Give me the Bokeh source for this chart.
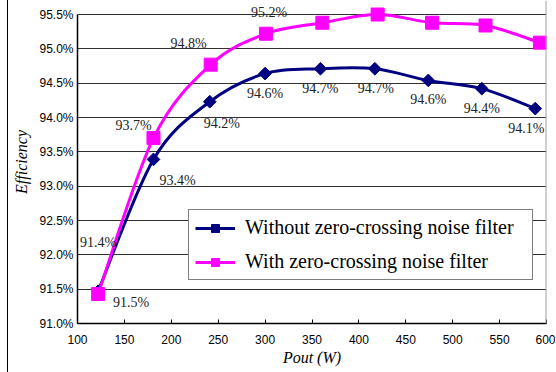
import numpy as np
from bokeh.plotting import figure
from bokeh.models import (Legend, LegendItem, Span, FixedTicker, PrintfTickFormatter,
                          ColumnDataSource)
from bokeh.core.properties import value
from bokeh.embed import file_html
from bokeh.resources import INLINE

# ---- data ----
pout_without = [122, 181, 241, 300, 359, 417, 474, 531, 588]
eff_without = [91.47, 93.39, 94.23, 94.64, 94.71, 94.71, 94.54, 94.42, 94.13]
labels_without = ["91.5%", "93.4%", "94.2%", "94.6%", "94.7%", "94.7%", "94.6%", "94.4%", "94.1%"]

pout_with = [122, 181, 242, 301, 361, 420, 478, 535, 593]
eff_with = [91.43, 93.70, 94.77, 95.22, 95.38, 95.50, 95.38, 95.34, 95.09]
labels_with = ["91.4%", "93.7%", "94.8%", "95.2%"]  # only the first four points are labelled

series_names = ["Without zero-crossing noise filter", "With zero-crossing noise filter"]
x_ticks = [100, 150, 200, 250, 300, 350, 400, 450, 500, 550, 600]
y_ticks = [91.0, 91.5, 92.0, 92.5, 93.0, 93.5, 94.0, 94.5, 95.0, 95.5]

# label placement offsets in screen pixels (style, not data)
without_dx = [33, 24, 12, 0, 0, 1, 0, 0, -9]
without_dy = [11, 21, 22, 20, 20, 20, 19, 20, 20]
with_dx = [0, -20, -22, 3]
with_dy = [-51, -13, -21, -21]

NAVY = "#000080"
MAGENTA = "#FF00FF"


def smooth_segments(xs, ys):
    """Bezier control points through the data points (Excel-style smoothed line)."""
    xs = np.asarray(xs, float)
    ys = np.asarray(ys, float)
    n = len(xs)
    d = dict(x0=[], y0=[], x1=[], y1=[], cx0=[], cy0=[], cx1=[], cy1=[])
    for i in range(n - 1):
        im1 = max(i - 1, 0)
        ip2 = min(i + 2, n - 1)
        d["x0"].append(xs[i]); d["y0"].append(ys[i])
        d["x1"].append(xs[i + 1]); d["y1"].append(ys[i + 1])
        d["cx0"].append(xs[i] + (xs[i + 1] - xs[im1]) / 6.0)
        d["cy0"].append(ys[i] + (ys[i + 1] - ys[im1]) / 6.0)
        d["cx1"].append(xs[i + 1] - (xs[ip2] - xs[i]) / 6.0)
        d["cy1"].append(ys[i + 1] - (ys[ip2] - ys[i]) / 6.0)
    return ColumnDataSource(d)


p = figure(width=548, height=372, x_range=(100, 600), y_range=(91.0, 95.704),
           output_backend="svg", toolbar_location=None,
           min_border_left=69, min_border_right=10, min_border_top=0, min_border_bottom=49)
p.styles = {"margin-left": "7px", "border-left": "1px solid black"}

p.background_fill_color = "white"
p.border_fill_color = "white"
p.outline_line_color = None

# grid
p.xgrid.visible = False
p.ygrid.ticker = FixedTicker(ticks=y_ticks)
p.ygrid.grid_line_color = "#303030"
p.ygrid.grid_line_width = 1

# right border of plot area
p.add_layout(Span(location=600, dimension="height", line_color="#a0a0a0", line_width=2))

# axes
p.xaxis.ticker = FixedTicker(ticks=x_ticks)
p.yaxis.ticker = FixedTicker(ticks=y_ticks)
p.yaxis.formatter = PrintfTickFormatter(format="%.1f%%")
p.yaxis.bounds = (91.0, 95.5)
for ax in (p.xaxis[0], p.yaxis[0]):
    ax.axis_line_color = "black"
    ax.axis_line_width = 1.5
    ax.minor_tick_line_color = None
    ax.major_label_text_font = "Liberation Sans"
    ax.major_label_text_font_size = "12px"
    ax.major_label_text_color = "black"
    ax.axis_label_text_font = "Liberation Serif"
    ax.axis_label_text_font_style = "italic"
    ax.axis_label_text_font_size = "16px"
    ax.axis_label_text_color = "black"
p.xaxis.major_tick_in = 4
p.xaxis.major_tick_out = 0
p.xaxis.major_tick_line_color = "black"
p.xaxis.major_label_standoff = 11
p.xaxis.axis_label = "Pout (W)"
p.xaxis.axis_label_standoff = 2
p.yaxis.major_tick_in = 0
p.yaxis.major_tick_out = 0
p.yaxis.major_label_standoff = 4
p.yaxis.axis_label = "Efficiency"
p.yaxis.axis_label_standoff = 6

# series
src_wo = ColumnDataSource(dict(x=pout_without, y=eff_without, t=labels_without,
                               dx=without_dx, dy=without_dy))
src_w = ColumnDataSource(dict(x=pout_with[:len(labels_with)], y=eff_with[:len(labels_with)],
                              t=labels_with, dx=with_dx, dy=with_dy))

l_wo = p.bezier(x0="x0", y0="y0", x1="x1", y1="y1", cx0="cx0", cy0="cy0", cx1="cx1", cy1="cy1",
                source=smooth_segments(pout_without, eff_without), line_color=NAVY, line_width=3)
m_wo = p.scatter(pout_without, eff_without, marker="square", angle=45, angle_units="deg",
                 size=9, fill_color=NAVY, line_color=NAVY)
l_w = p.bezier(x0="x0", y0="y0", x1="x1", y1="y1", cx0="cx0", cy0="cy0", cx1="cx1", cy1="cy1",
               source=smooth_segments(pout_with, eff_with), line_color=MAGENTA, line_width=3)
m_w = p.scatter(pout_with, eff_with, marker="square", size=13,
                fill_color=MAGENTA, line_color=MAGENTA)

for src in (src_wo, src_w):
    p.text(x="x", y="y", text="t", x_offset="dx", y_offset="dy", source=src,
           text_align="center", text_baseline="middle",
           text_font=value("Liberation Serif"), text_font_size="14px", text_color="#222222")

legend = Legend(items=[LegendItem(label=series_names[0], renderers=[l_wo, m_wo]),
                       LegendItem(label=series_names[1], renderers=[l_w, m_w])],
                location=(111, 43))
legend.border_line_color = "black"
legend.border_line_width = 1
legend.background_fill_color = "white"
legend.background_fill_alpha = 1
legend.label_text_font = "Liberation Serif"
legend.label_text_font_size = "20px"
legend.label_text_color = "black"
legend.padding = 6
legend.spacing = 11
legend.margin = 0
legend.glyph_width = 40
legend.glyph_height = 20
legend.label_height = 20
legend.label_standoff = 10
legend.label_width = 281
p.add_layout(legend, "center")

open("out.html", "w").write(file_html(p, INLINE))
